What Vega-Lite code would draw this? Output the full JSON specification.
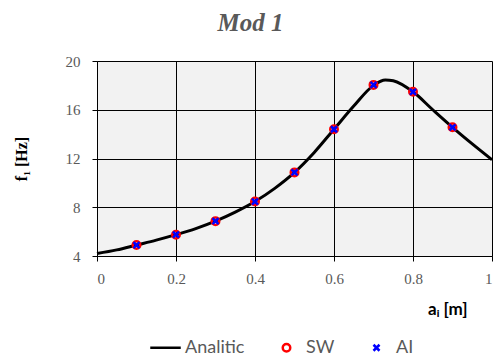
{
  "$schema": "https://vega.github.io/schema/vega-lite/v6.json",
  "width": 395,
  "height": 195,
  "autosize": {"type": "none"},
  "padding": {"left": 97, "top": 61, "right": 2, "bottom": 102},
  "background": "white",
  "title": {
    "text": "Mod 1",
    "font": "Liberation Serif",
    "fontSize": 25,
    "fontWeight": "bold",
    "fontStyle": "italic",
    "color": "#595959",
    "anchor": "middle",
    "frame": "group",
    "dx": -44,
    "offset": 18
  },
  "config": {
    "view": {"fill": "#f2f2f2", "stroke": null},
    "axis": {
      "gridColor": "#000000",
      "gridOpacity": 1,
      "gridWidth": 1,
      "domainColor": "#000000",
      "domainWidth": 1,
      "tickColor": "#000000",
      "tickSize": 5,
      "labelFont": "Liberation Serif",
      "labelFontSize": 15,
      "labelColor": "#595959"
    },
    "legend": {
      "title": null,
      "orient": "none",
      "direction": "horizontal",
      "legendX": 52,
      "legendY": 270,
      "symbolSize": 930,
      "symbolStrokeWidth": 2.5,
      "symbolFillColor": "transparent",
      "symbolOpacity": 1,
      "labelFont": "Lato",
      "labelFontSize": 18,
      "labelColor": "#595959",
      "labelOffset": 3,
      "columnPadding": 25
    }
  },
  "datasets": {
    "analytic": [
      {"a": 0.0, "f": 4.2},
      {"a": 0.05, "f": 4.5},
      {"a": 0.1, "f": 4.9},
      {"a": 0.15, "f": 5.3},
      {"a": 0.2, "f": 5.75},
      {"a": 0.25, "f": 6.25},
      {"a": 0.3, "f": 6.86},
      {"a": 0.35, "f": 7.6},
      {"a": 0.4, "f": 8.47},
      {"a": 0.45, "f": 9.55},
      {"a": 0.5, "f": 10.86},
      {"a": 0.55, "f": 12.5},
      {"a": 0.6, "f": 14.4},
      {"a": 0.65, "f": 16.3},
      {"a": 0.7, "f": 18.0},
      {"a": 0.73, "f": 18.45},
      {"a": 0.75, "f": 18.38},
      {"a": 0.8, "f": 17.47},
      {"a": 0.85, "f": 16.0},
      {"a": 0.9, "f": 14.56},
      {"a": 0.95, "f": 13.2},
      {"a": 1.0, "f": 11.9}
    ],
    "points": [
      {"a": 0.1, "f": 4.9},
      {"a": 0.2, "f": 5.75},
      {"a": 0.3, "f": 6.86},
      {"a": 0.4, "f": 8.47},
      {"a": 0.5, "f": 10.86},
      {"a": 0.6, "f": 14.4},
      {"a": 0.7, "f": 18.04},
      {"a": 0.8, "f": 17.47},
      {"a": 0.9, "f": 14.56}
    ]
  },
  "encoding": {
    "x": {
      "field": "a",
      "type": "quantitative",
      "scale": {"domain": [0, 1], "nice": false},
      "axis": {
        "values": [0, 0.2, 0.4, 0.6, 0.8, 1],
        "format": "~g",
        "labelPadding": 10,
        "title": "aᵢ [m]",
        "titleFont": "Lato",
        "titleFontSize": 17,
        "titleFontWeight": "bold",
        "titleColor": "#000000",
        "titleAnchor": "end",
        "titleAlign": "right",
        "titleBaseline": "top",
        "titleX": 370,
        "titleY": 45
      }
    },
    "y": {
      "field": "f",
      "type": "quantitative",
      "scale": {"domain": [4, 20], "nice": false, "zero": false},
      "axis": {
        "values": [4, 8, 12, 16, 20],
        "labelPadding": 12,
        "title": "f₁ [Hz]",
        "titleFont": "Liberation Serif",
        "titleFontSize": 16,
        "titleFontWeight": "bold",
        "titleColor": "#000000",
        "titlePadding": 36
      }
    }
  },
  "layer": [
    {
      "data": {"name": "analytic"},
      "mark": {"type": "line", "strokeWidth": 3, "interpolate": "monotone"},
      "encoding": {
        "color": {
          "datum": "Analitic",
          "scale": {"domain": ["Analitic", "SW", "AI"], "range": ["#000000", "#ff0000", "#0000ff"]}
        }
      }
    },
    {
      "data": {"name": "points"},
      "mark": {"type": "point", "filled": false, "strokeWidth": 2.5, "size": 930, "opacity": 1},
      "encoding": {
        "color": {"datum": "SW"},
        "shape": {
          "datum": "SW",
          "scale": {
            "domain": ["Analitic", "SW", "AI"],
            "range": [
              "M-1,0L1,0",
              "M0.246,0A0.246,0.246,0,1,1,-0.246,0A0.246,0.246,0,1,1,0.246,0Z",
              "M-0.197,-0.197L0.197,0.197M0.197,-0.197L-0.197,0.197"
            ]
          }
        }
      }
    },
    {
      "data": {"name": "points"},
      "mark": {"type": "point", "filled": false, "strokeWidth": 2.5, "size": 930, "opacity": 1},
      "encoding": {
        "color": {"datum": "AI"},
        "shape": {"datum": "AI"}
      }
    }
  ]
}
